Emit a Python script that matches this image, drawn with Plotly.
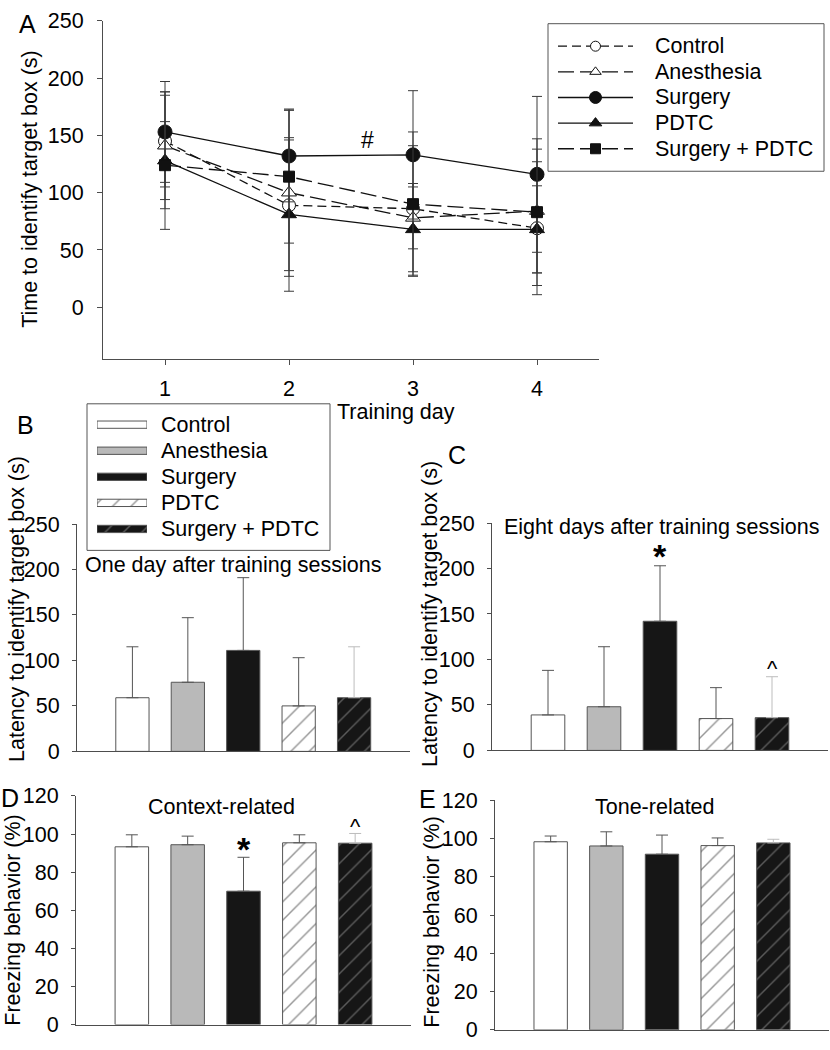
import plotly.graph_objects as go

W, H = 830, 1050

# ---------------- data ----------------
days = [1, 2, 3, 4]
day_labels = ["1", "2", "3", "4"]
groups = ["Control", "Anesthesia", "Surgery", "PDTC", "Surgery + PDTC"]

# Panel A: time to identify target box (s), mean and SD
a_control = [145, 89, 86, 69]
a_control_sd = [40, 57, 55, 58]
a_anesthesia = [141, 100, 78, 84]
a_anesthesia_sd = [47, 73, 27, 54]
a_surgery = [153, 132, 133, 116]
a_surgery_sd = [44, 40, 56, 68]
a_pdtc = [128, 81, 68, 68]
a_pdtc_sd = [60, 67, 40, 38]
a_surg_pdtc = [124, 114, 90, 83]
a_surg_pdtc_sd = [38, 58, 63, 64]

# Panel B: one day after training sessions
b_values = [59, 76, 111, 50, 59]
b_sd = [56, 71, 80, 53, 56]
# Panel C: eight days after training sessions
c_values = [39, 48, 142, 35, 36]
c_sd = [49, 66, 61, 34, 45]
# Panel D: context-related freezing (%)
d_values = [93.3, 94.4, 70.0, 95.4, 95.2]
d_sd = [6.3, 4.5, 17.8, 4.2, 5.1]
# Panel E: tone-related freezing (%)
e_values = [98.3, 96.1, 91.8, 96.3, 97.7]
e_sd = [3.0, 7.4, 10.0, 4.0, 1.9]

a_ticks = [0, 50, 100, 150, 200, 250]
bc_ticks = [0, 50, 100, 150, 200, 250]
de_ticks = [0, 20, 40, 60, 80, 100, 120]

# ---------------- styles ----------------
FONT = "Arial, 'Liberation Sans', Helvetica, sans-serif"
FS = 21.5
AX = "#4d4d4d"
BLACK = "#111111"


def fx(p):
    return p / W


def fy(p):
    return 1 - p / H


line_series = [
    ("Control", a_control, a_control_sd,
     dict(dash="9px,5px", symbol="circle", fill="white", size=13, lsize=10)),
    ("Anesthesia", a_anesthesia, a_anesthesia_sd,
     dict(dash="16px,6px", symbol="triangle-up", fill="white", size=13, lsize=10)),
    ("Surgery", a_surgery, a_surgery_sd,
     dict(dash="solid", symbol="circle", fill=BLACK, size=14, lsize=12)),
    ("PDTC", a_pdtc, a_pdtc_sd,
     dict(dash="solid", symbol="triangle-up", fill=BLACK, size=13, lsize=11)),
    ("Surgery + PDTC", a_surg_pdtc, a_surg_pdtc_sd,
     dict(dash="16px,6px", symbol="square", fill=BLACK, size=11, lsize=10)),
]

bar_styles = [
    dict(color="white", shape="", fg="#333", err="#555"),
    dict(color="#b9b9b9", shape="", fg="#333", err="#555"),
    dict(color="#161616", shape="", fg="#333", err="#555"),
    dict(color="white", shape="/", fg="#2a2a2a", err="#555"),
    dict(color="#161616", shape="/", fg="#a0a0a0", err="#bdbdbd"),
]

fig = go.Figure()

# ---------------- Panel A ----------------
for name, vals, sd, st in line_series:
    fig.add_trace(go.Scatter(
        x=days, y=vals, mode="lines+markers", name=name,
        line=dict(color=BLACK, width=1.3, dash=st["dash"]),
        marker=dict(symbol=st["symbol"], size=st["size"], color=st["fill"],
                    line=dict(color=BLACK, width=1)),
        error_y=dict(type="data", array=sd, visible=True, color="#3a3a3a",
                     thickness=1, width=5),
        xaxis="x", yaxis="y", showlegend=False, cliponaxis=False,
    ))

# legend samples for panel A (hidden axis x6/y6)
for k, (name, vals, sd, st) in enumerate(line_series):
    fig.add_trace(go.Scatter(
        x=[0, 1], y=[k, k], mode="lines",
        line=dict(color=BLACK, width=1.3, dash=st["dash"]),
        xaxis="x6", yaxis="y6", showlegend=False, hoverinfo="skip",
    ))
    fig.add_trace(go.Scatter(
        x=[0.5], y=[k], mode="markers",
        marker=dict(symbol=st["symbol"], size=st["lsize"], color=st["fill"],
                    line=dict(color=BLACK, width=1)),
        xaxis="x6", yaxis="y6", showlegend=False, hoverinfo="skip",
    ))

# ---------------- Bar panels ----------------
panels = [("x2", "y2", b_values, b_sd), ("x3", "y3", c_values, c_sd),
          ("x4", "y4", d_values, d_sd), ("x5", "y5", e_values, e_sd)]
for xa, ya, vals, sd in panels:
    for i, g in enumerate(groups):
        st = bar_styles[i]
        fig.add_trace(go.Bar(
            x=[i], y=[vals[i]], width=0.6, name=g,
            marker=dict(color=st["color"], line=dict(color="#555", width=1),
                        pattern=dict(shape=st["shape"], fgcolor=st["fg"],
                                     bgcolor=st["color"], size=13, solidity=0.11)),
            error_y=dict(type="data", symmetric=False, array=[sd[i]], arrayminus=[0],
                         color=st["err"], thickness=1, width=6),
            xaxis=xa, yaxis=ya, showlegend=False,
        ))

# legend swatches for panel B (hidden axis x7/y7)
for i, g in enumerate(groups):
    st = bar_styles[i]
    fig.add_trace(go.Bar(
        x=[1], y=[i], orientation="h", width=0.28, name=g,
        marker=dict(color=st["color"], line=dict(color="#555", width=1),
                    pattern=dict(shape=st["shape"], fgcolor=st["fg"],
                                 bgcolor=st["color"], size=13, solidity=0.11)),
        xaxis="x7", yaxis="y7", showlegend=False, hoverinfo="skip",
    ))

# ---------------- axes ----------------
tickfont = dict(family=FONT, size=FS, color="black")
base_x = dict(showgrid=False, zeroline=False, showline=True, linecolor=AX,
              linewidth=1, tickfont=tickfont)
base_y = dict(showgrid=False, zeroline=False, showline=True, linecolor=AX,
              linewidth=1, tickfont=tickfont)
bar_y = dict(base_y, tickmode="array", ticks="outside", ticklen=4, tickcolor=AX,
             ticklabelstandoff=8)

layout_axes = dict(
    xaxis=dict(base_x, domain=[fx(103), fx(599)], range=[0.5, 4.5], anchor="y",
               tickmode="array", tickvals=days, ticktext=day_labels,
               ticks="outside", ticklen=5, tickcolor=AX, ticklabelstandoff=5),
    yaxis=dict(base_y, domain=[fy(356), fy(10)], range=[-45, 250], anchor="x",
               tickmode="array", tickvals=a_ticks, ticks="outside", ticklen=5,
               tickcolor=AX, ticklabelstandoff=9),
    xaxis2=dict(base_x, domain=[fx(77), fx(409.5)], range=[-1, 5], anchor="y2",
                showticklabels=False, ticks=""),
    yaxis2=dict(bar_y, domain=[fy(757.7), fy(525)], range=[0, 250], anchor="x2",
                tickvals=bc_ticks),
    xaxis3=dict(base_x, domain=[fx(492), fx(828)], range=[-1, 5], anchor="y3",
                showticklabels=False, ticks=""),
    yaxis3=dict(bar_y, domain=[fy(756.7), fy(524)], range=[0, 250], anchor="x3",
                tickvals=bc_ticks),
    xaxis4=dict(base_x, domain=[fx(76), fx(411)], range=[-1, 5], anchor="y4",
                showticklabels=False, ticks=""),
    yaxis4=dict(bar_y, domain=[fy(1037.3), fy(803.3)], range=[0, 120], anchor="x4",
                tickvals=de_ticks),
    xaxis5=dict(base_x, domain=[fx(495), fx(829)], range=[-1, 5], anchor="y5",
                showticklabels=False, ticks=""),
    yaxis5=dict(bar_y, domain=[fy(1042.7), fy(807.7)], range=[0, 120], anchor="x5",
                tickvals=de_ticks),
    xaxis6=dict(domain=[fx(558), fx(633)], range=[0, 1], anchor="y6", visible=False),
    yaxis6=dict(domain=[fy(154.1), fy(22.9)], range=[4.5, -0.5], anchor="x6", visible=False),
    xaxis7=dict(domain=[fx(97), fx(147)], range=[0, 1], anchor="y7", visible=False),
    yaxis7=dict(domain=[fy(543.4), fy(410)], range=[4.5, -0.5], anchor="x7", visible=False),
)

annotations = []


def ann(text, x, y, xref="paper", yref="paper", size=FS, angle=0,
        xanchor="center", yanchor="middle", bold=False):
    if xref == "paper":
        x = fx(x)
    if yref == "paper":
        y = fy(y)
    annotations.append(dict(
        text=f"<b>{text}</b>" if bold else text, x=x, y=y, xref=xref, yref=yref,
        showarrow=False, textangle=angle, xanchor=xanchor, yanchor=yanchor,
        font=dict(family=FONT, size=size, color="black")))


# panel letters
ann("A", 27, 13, size=25)
ann("B", 25, 424, size=25)
ann("C", 457, 454, size=25)
ann("D", 10, 805, size=25)
ann("E", 427, 806, size=25)

# axis titles
ann("Time to identify target box (s)", 30, 182, angle=-90)
ann("Training day", 396, 410)
ann("Latency to identify target box (s)", 17, 612, angle=-90)
ann("Latency to identify target box (s)", 430, 617, angle=-90)
ann("Freezing behavior (%)", 13, 930, angle=-90)
ann("Freezing behavior (%)", 432, 932, angle=-90)

# panel subtitles
ann("One day after training sessions", 233, 567)
ann("Eight days after training sessions", 662, 528)
ann("Context-related", 221, 815)
ann("Tone-related", 655, 815)

# significance marks
ann("#", 2.63, 146, xref="x", yref="y", size=23)
ann("*", 2, 214, xref="x3", yref="y3", size=34, bold=True)
ann("^", 4, 90, xref="x3", yref="y3", size=22)
ann("*", 2, 92, xref="x4", yref="y4", size=34, bold=True)
ann("^", 4, 104, xref="x4", yref="y4", size=22)

# legend labels
for k, g in enumerate(groups):
    ann(g, 653, 36 + k * 26.25, xanchor="left")
    ann(g, 159, 423.4 + k * 26.7, xanchor="left")

shapes = [
    dict(type="rect", xref="paper", yref="paper", x0=fx(548), x1=fx(824),
         y0=fy(164), y1=fy(13), line=dict(color="#555", width=1)),
    dict(type="rect", xref="paper", yref="paper", x0=fx(87), x1=fx(330),
         y0=fy(552), y1=fy(402), line=dict(color="#555", width=1)),
]

fig.update_layout(
    width=W, height=H, margin=dict(l=0, r=0, t=0, b=0),
    paper_bgcolor="white", plot_bgcolor="rgba(0,0,0,0)",
    font=dict(family=FONT, size=FS, color="black"),
    showlegend=False, barmode="overlay",
    annotations=annotations, shapes=shapes,
    **layout_axes,
)

fig.write_html("out.html", config={"displayModeBar": False},
               post_script="document.body.style.margin='0px';")
